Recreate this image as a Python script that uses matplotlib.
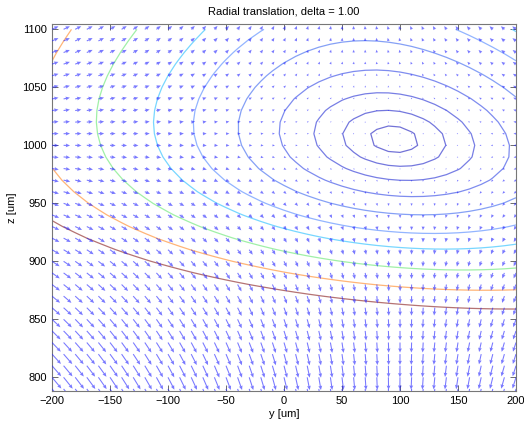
import numpy as np
import matplotlib
matplotlib.use("Agg")
import matplotlib.pyplot as plt

plt.rcParams['font.family'] = ['Liberation Sans', 'DejaVu Sans']

# ---- data ----
title_text = "Radial translation, delta = 1.00"
y_grid = np.arange(-200, 201, 10)          # lateral positions [um]
z_grid = np.arange(790, 1101, 10)          # axial positions [um]
center = [95.0, 1005.0]                    # zero-force point (y, z)
u_coef = [0.0205, 4.84e-6, 2.26e-7, 6.5e-7, -0.0059, -2.88e-5]  # a0, a1, a2, k, e1, e2
v_coef = [0.03843, -7.43e-5, 3e-6]                              # b1, b2, w
contour_levels = [0.43, 0.9, 1.4, 2.0, 2.7, 3.45, 4.1, 5.0, 5.9, 6.75]
contour_colors = ['#5a5ad0', '#5c60d8', '#6068e0', '#6878ec', '#7090f4',
                  '#80a8ff', '#60d0ff', '#90ee98', '#ffa860', '#a85a5a']
xticks = [-200, -150, -100, -50, 0, 50, 100, 150, 200]
yticks = [800, 850, 900, 950, 1000, 1050, 1100]

# ---- field ----
Y, Z = np.meshgrid(y_grid, z_grid)
dy = Y - center[0]
dz = Z - center[1]
a0, a1, a2, k, e1, e2 = u_coef
b1, b2, w = v_coef
U = -(a0 + a1 * dz + a2 * dz ** 2) * dy * (1 - k * dy ** 2) + e1 * dz + e2 * dz ** 2
V = (b1 * dz + b2 * dz ** 2) * (1 - w * Y ** 2)
M = np.hypot(U, V)

fig = plt.figure(figsize=(5.24, 4.21), dpi=100)
ax = fig.add_axes([52 / 524, 1 - 391 / 421, 464 / 524, 367 / 421])

cs = ax.contour(Y, Z, M, levels=contour_levels, colors=contour_colors,
                linewidths=0.9, alpha=0.85)
ax.quiver(Y, Z, U, V, angles='xy', scale_units='xy', scale=1,
          color='#2020ff', alpha=0.6, width=0.0023, headwidth=3.5,
          headlength=4, headaxislength=3.6, zorder=3)

ax.set_xlim(-200, 200)
ax.set_ylim(788.2, 1104.6)
ax.set_xticks(xticks)
ax.set_yticks(yticks)
ax.tick_params(direction='in', top=True, right=True, length=4,
               labelsize=8, color='#555555', labelcolor='black', width=0.6)
for s in ax.spines.values():
    s.set_color('#777777')
    s.set_linewidth(0.8)
ax.set_title(title_text, fontsize=8, pad=7)
ax.set_xlabel('y [um]', fontsize=8, labelpad=2)
ax.set_ylabel('z [um]', fontsize=8, labelpad=4)

fig.savefig('out.png', dpi=100)
